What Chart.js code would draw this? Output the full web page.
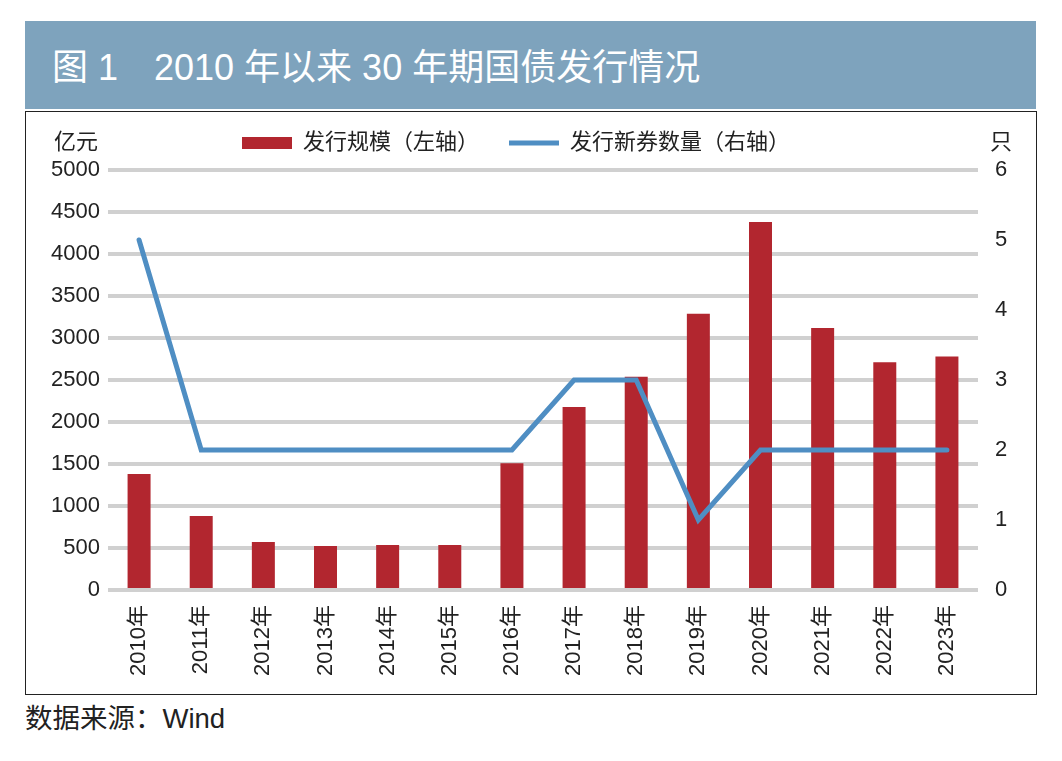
<!DOCTYPE html>
<html>
<head>
<meta charset="utf-8">
<script src="https://cdn.jsdelivr.net/npm/chart.js@4/dist/chart.umd.min.js"></script>
<style>
  body { margin: 0; background: #fff; width: 1062px; height: 761px; position: relative; overflow: hidden;
         font-family: "Liberation Sans", "Noto Sans CJK SC", sans-serif; }
  #banner { position: absolute; left: 25px; top: 21px; width: 1011px; height: 88px; background: #7ea3bd; }
  #banner span { position: absolute; left: 27px; top: 29px; font-size: 36px; line-height: 36px; color: #fff; white-space: pre; }
  #box { position: absolute; left: 25px; top: 111px; width: 1010px; height: 582px; border: 1.5px solid #222; }
  #chart-bond { position: absolute; left: 11px; top: 112px; }
  #source { position: absolute; left: 25px; top: 704px; font-size: 27.5px; line-height: 30px; color: #222; }
</style>
</head>
<body>
<div id="banner"><span>图 1　2010 年以来 30 年期国债发行情况</span></div>
<div id="box"></div>
<canvas id="chart-bond"></canvas>
<div id="source">数据来源：Wind</div>
<script>
// 30年期国债 发行规模 / 新券数量
var years = ["2010年", "2011年", "2012年", "2013年", "2014年", "2015年", "2016年",
             "2017年", "2018年", "2019年", "2020年", "2021年", "2022年", "2023年"];
var issueAmount = [1380, 880, 570, 525, 535, 535, 1510, 2180, 2540, 3290, 4380, 3120, 2710, 2780];
var newBondCount = [5, 2, 2, 2, 2, 2, 2, 3, 3, 1, 2, 2, 2, 2];
var leftTicks = [0, 500, 1000, 1500, 2000, 2500, 3000, 3500, 4000, 4500, 5000];
var rightTicks = [0, 1, 2, 3, 4, 5, 6];

var font = "'Liberation Sans', 'Noto Sans CJK SC', sans-serif";
var textColor = "#222";

// units above the two y axes
var unitLabels = {
  id: "unitLabels",
  afterDraw: function (chart) {
    var c = chart.ctx, area = chart.chartArea;
    c.save();
    c.font = "22px " + font;
    c.fillStyle = textColor;
    c.textBaseline = "middle";
    c.textAlign = "right";
    c.fillText("亿元", area.left - 10, 31);
    c.textAlign = "center";
    c.fillText("只", area.right + 23, 31);
    c.restore();
  }
};

var ctxBond = document.getElementById("chart-bond");
ctxBond.width = 1010;
ctxBond.height = 582;

new Chart(ctxBond.getContext("2d"), {
  data: {
    labels: years,
    datasets: [
      {
        type: "line",
        label: "发行新券数量（右轴）",
        data: newBondCount,
        yAxisID: "y1",
        borderColor: "#4f8ec3",
        backgroundColor: "#4f8ec3",
        borderWidth: 5,
        borderCapStyle: "round",
        pointRadius: 0,
        pointStyle: "line",
        tension: 0,
        order: 0
      },
      {
        type: "bar",
        label: "发行规模（左轴）",
        data: issueAmount,
        yAxisID: "y",
        backgroundColor: "#b2262f",
        barPercentage: 0.37,
        categoryPercentage: 1,
        pointStyle: "rect",
        order: 1
      }
    ]
  },
  options: {
    responsive: false,
    animation: false,
    layout: { padding: { left: 0, right: 0, top: -10, bottom: 0 } },
    plugins: {
      legend: {
        reverse: true,
        labels: {
          usePointStyle: true,
          pointStyleWidth: 50,
          boxHeight: 12,
          padding: 30,
          color: textColor,
          font: { family: font, size: 22 }
        }
      },
      // blank spacer between legend and plot
      title: { display: true, text: "", weight: 500, padding: 0, font: { size: 6, lineHeight: 1 } },
      tooltip: { enabled: false }
    },
    scales: {
      x: {
        grid: { display: false },
        border: { display: false },
        ticks: { color: textColor, font: { family: font, size: 22 }, minRotation: 90, maxRotation: 90, padding: 7 },
        afterFit: function (s) { s.height = 104; }
      },
      y: {
        position: "left",
        min: 0,
        max: 5000,
        afterBuildTicks: function (s) { s.ticks = leftTicks.map(function (v) { return { value: v }; }); },
        grid: { color: "#d0d0d0", lineWidth: 4, drawTicks: false },
        border: { display: false },
        ticks: { color: textColor, font: { family: font, size: 22 }, padding: 8, callback: function (v) { return String(v); } },
        afterFit: function (s) { s.width = 97; }
      },
      y1: {
        position: "right",
        min: 0,
        max: 6,
        afterBuildTicks: function (s) { s.ticks = rightTicks.map(function (v) { return { value: v }; }); },
        grid: { display: false, drawTicks: false },
        border: { display: false },
        ticks: { color: textColor, font: { family: font, size: 22 }, padding: 17, callback: function (v) { return String(v); } },
        afterFit: function (s) { s.width = 43; }
      }
    }
  },
  plugins: [unitLabels]
});
</script>
</body>
</html>
